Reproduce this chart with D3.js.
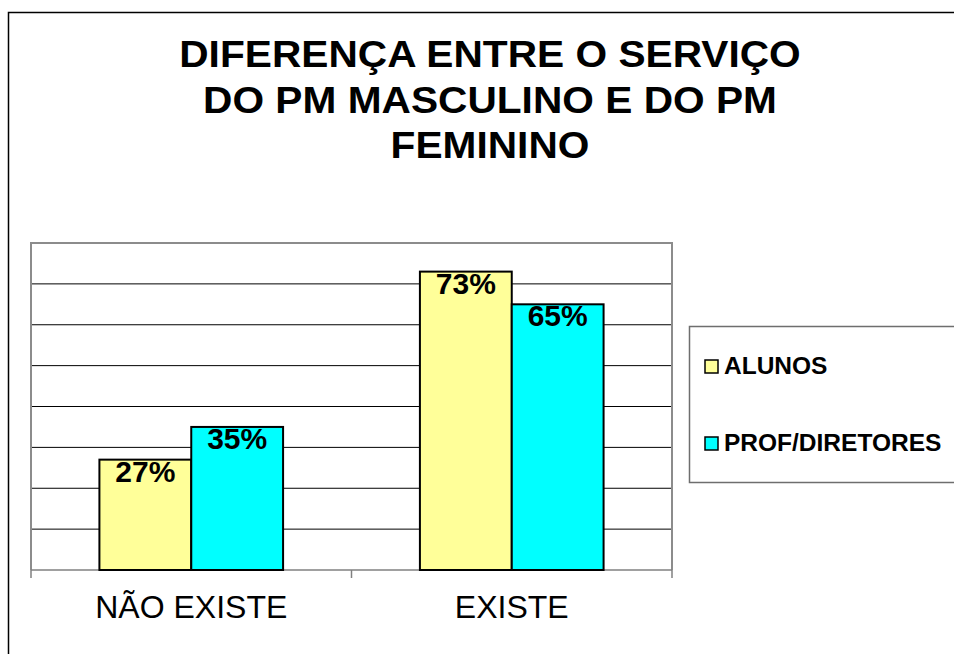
<!DOCTYPE html>
<html>
<head>
<meta charset="utf-8">
<script src="https://cdn.jsdelivr.net/npm/d3@7"></script>
<style>
  body { margin: 0; background: #fff; }
  text { font-family: Arial, "Liberation Sans", sans-serif; }
</style>
</head>
<body>
<div id="chart"></div>
<script>
var titleLines = ["DIFERENÇA ENTRE O SERVIÇO", "DO PM MASCULINO E DO PM", "FEMININO"];
var categories = ["NÃO EXISTE", "EXISTE"];
var series = ["ALUNOS", "PROF/DIRETORES"];
var alunos = [27, 73];
var profDiretores = [35, 65];
var colors = ["#ffff99", "#00ffff"];
var yTicks = [0, 10, 20, 30, 40, 50, 60, 70, 80];

var width = 954,
    height = 654;

var svg = d3.select("#chart").append("svg")
    .attr("width", width)
    .attr("height", height);

// outer chart border (goes off the right and bottom edge)
svg.append("rect")
    .attr("x", 8.5).attr("y", 12.5)
    .attr("width", 1000).attr("height", 700)
    .attr("fill", "none")
    .attr("stroke", "#000")
    .attr("stroke-width", 1.5);

// title
var title = svg.append("g")
    .attr("transform", "translate(490,0)");
title.selectAll("text")
    .data(titleLines)
  .enter().append("text")
    .attr("transform", function(d, i) { return "translate(0," + (67 + i * 45.5) + ") scale(1.13,1)"; })
    .attr("text-anchor", "middle")
    .attr("font-size", 36)
    .attr("font-weight", "bold")
    .text(function(d) { return d; });

var plotLeft = 31, plotRight = 672, plotTop = 243, plotBottom = 570;

var x0 = d3.scaleBand()
    .domain(categories)
    .range([plotLeft, plotRight]);

var x1 = d3.scaleBand()
    .domain(series)
    .range([0, x0.bandwidth()])
    .paddingOuter(0.745)
    .paddingInner(0);

var y = d3.scaleLinear()
    .domain([0, 80])
    .range([plotBottom, plotTop]);

// gridlines
svg.append("g")
    .selectAll("line")
    .data(yTicks.slice(1, -1))
  .enter().append("line")
    .attr("x1", plotLeft).attr("x2", plotRight)
    .attr("y1", function(d) { return y(d); })
    .attr("y2", function(d) { return y(d); })
    .attr("stroke", "#000")
    .attr("stroke-width", 1);

// plot area frame
svg.append("path")
    .attr("d", "M" + plotLeft + "," + plotBottom + "V" + plotTop + "H" + plotRight + "V" + plotBottom)
    .attr("fill", "none")
    .attr("stroke", "#8c8c8c")
    .attr("stroke-width", 2);

// x axis
var xAxis = svg.append("g")
    .attr("transform", "translate(0," + plotBottom + ")");
xAxis.append("line")
    .attr("x1", plotLeft).attr("x2", plotRight)
    .attr("stroke", "#808080").attr("stroke-width", 1.5);
xAxis.selectAll(".tick")
    .data([plotLeft, plotLeft + x0.bandwidth(), plotRight])
  .enter().append("line")
    .attr("x1", function(d) { return d; })
    .attr("x2", function(d) { return d; })
    .attr("y1", 0).attr("y2", 8)
    .attr("stroke", "#808080").attr("stroke-width", 1.5);
xAxis.selectAll(".cat")
    .data(categories)
  .enter().append("text")
    .attr("x", function(d) { return x0(d) + x0.bandwidth() / 2; })
    .attr("y", 48)
    .attr("text-anchor", "middle")
    .attr("font-size", 32)
    .text(function(d) { return d; });

// bars
var rows = categories.map(function(c, i) {
  return { cat: c, vals: [alunos[i], profDiretores[i]] };
});

var groups = svg.selectAll(".grp")
    .data(rows)
  .enter().append("g")
    .attr("transform", function(d) { return "translate(" + x0(d.cat) + ",0)"; });

var bars = groups.selectAll("g")
    .data(function(d) { return d.vals.map(function(v, j) { return { s: series[j], v: v, j: j }; }); })
  .enter().append("g");

bars.append("rect")
    .attr("x", function(d) { return x1(d.s); })
    .attr("y", function(d) { return y(d.v); })
    .attr("width", x1.bandwidth())
    .attr("height", function(d) { return plotBottom - y(d.v); })
    .attr("fill", function(d) { return colors[d.j]; })
    .attr("stroke", "#000")
    .attr("stroke-width", 2);

bars.append("text")
    .attr("x", function(d) { return x1(d.s) + x1.bandwidth() / 2; })
    .attr("y", function(d) { return y(d.v) + 22; })
    .attr("text-anchor", "middle")
    .attr("font-size", 30)
    .attr("font-weight", "bold")
    .text(function(d) { return d.v + "%"; });

// legend
var legend = svg.append("g");
legend.append("rect")
    .attr("x", 689.5).attr("y", 326.5)
    .attr("width", 400).attr("height", 156)
    .attr("fill", "#fff")
    .attr("stroke", "#6e6e6e")
    .attr("stroke-width", 1.5);

var items = legend.selectAll(".item")
    .data(series)
  .enter().append("g")
    .attr("transform", function(d, i) { return "translate(705," + (366 + i * 77) + ")"; });

items.append("rect")
    .attr("x", 0).attr("y", -6)
    .attr("width", 13).attr("height", 13)
    .attr("fill", function(d, i) { return colors[i]; })
    .attr("stroke", "#000")
    .attr("stroke-width", 1.5);

items.append("text")
    .attr("x", 19)
    .attr("y", 8)
    .attr("font-size", 24.5)
    .attr("font-weight", "bold")
    .text(function(d) { return d; });
</script>
</body>
</html>
